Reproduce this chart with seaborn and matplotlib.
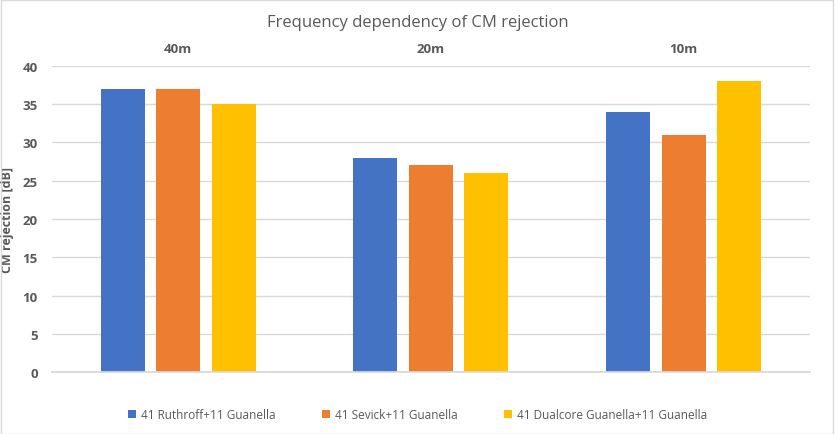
import matplotlib
matplotlib.use("Agg")
import matplotlib.pyplot as plt
import seaborn as sns
import pandas as pd
from matplotlib.patches import Patch

categories = ["40m", "20m", "10m"]
series_names = ["41 Ruthroff+11 Guanella", "41 Sevick+11 Guanella", "41 Dualcore Guanella+11 Guanella"]
ruthroff = [37, 28, 34]
sevick = [37, 27, 31]
dualcore = [35, 26, 38]
colors = ["#4472C4", "#ED7D31", "#FFC000"]

rows = []
for name, vals in zip(series_names, [ruthroff, sevick, dualcore]):
    for c, v in zip(categories, vals):
        rows.append({"band": c, "series": name, "value": v})
df = pd.DataFrame(rows)

sns.set_theme(style="white")
plt.rcParams['font.family'] = ['Open Sans', 'DejaVu Sans']

fig = plt.figure(figsize=(8.35, 4.35), dpi=100)
ax = fig.add_axes([0.062, 0.1425, 0.908, 0.7035])
sns.barplot(data=df, x="band", y="value", hue="series", order=categories,
            hue_order=series_names, palette=colors, width=0.658, gap=0.207,
            saturation=1, ax=ax, legend=False, linewidth=0)

ax.set_ylim(0, 40)
ax.set_yticks(range(0, 41, 5))
ax.set_xlim(-0.5, 2.5)
ax.yaxis.grid(True, color="#d9d9d9", linewidth=1)
ax.set_axisbelow(True)
for s in ["top", "right", "left"]:
    ax.spines[s].set_visible(False)
ax.spines["bottom"].set_color("#d9d9d9")
ax.xaxis.tick_top()
ax.tick_params(axis="x", length=0, pad=8, labelsize=9.5, labelcolor="#595959")
ax.tick_params(axis="y", length=0, pad=10, labelsize=9.5, labelcolor="#595959")
for lab in ax.get_xticklabels() + ax.get_yticklabels():
    lab.set_fontweight("bold")
ax.set_xlabel("")
ax.set_ylabel("CM rejection [dB]", fontsize=9, fontweight="bold", color="#595959", labelpad=6)

fig.text(0.5, 0.948, "Frequency dependency of CM rejection", ha="center", va="center",
         fontsize=12, color="#595959")

hs = [Patch(facecolor=c, edgecolor="none") for c in colors]
fig.legend(hs, series_names, loc="center", bbox_to_anchor=(0.5, 0.045), ncol=3,
           frameon=False, fontsize=8.5, labelcolor="#595959", handlelength=0.7,
           handleheight=0.7, columnspacing=3.9, handletextpad=0.4)

fig.patches.append(plt.Rectangle((0.001, 0.001), 0.997, 0.997, transform=fig.transFigure,
                                 fill=False, edgecolor="#d9d9d9", linewidth=1))
fig.savefig("out.png", dpi=100)
